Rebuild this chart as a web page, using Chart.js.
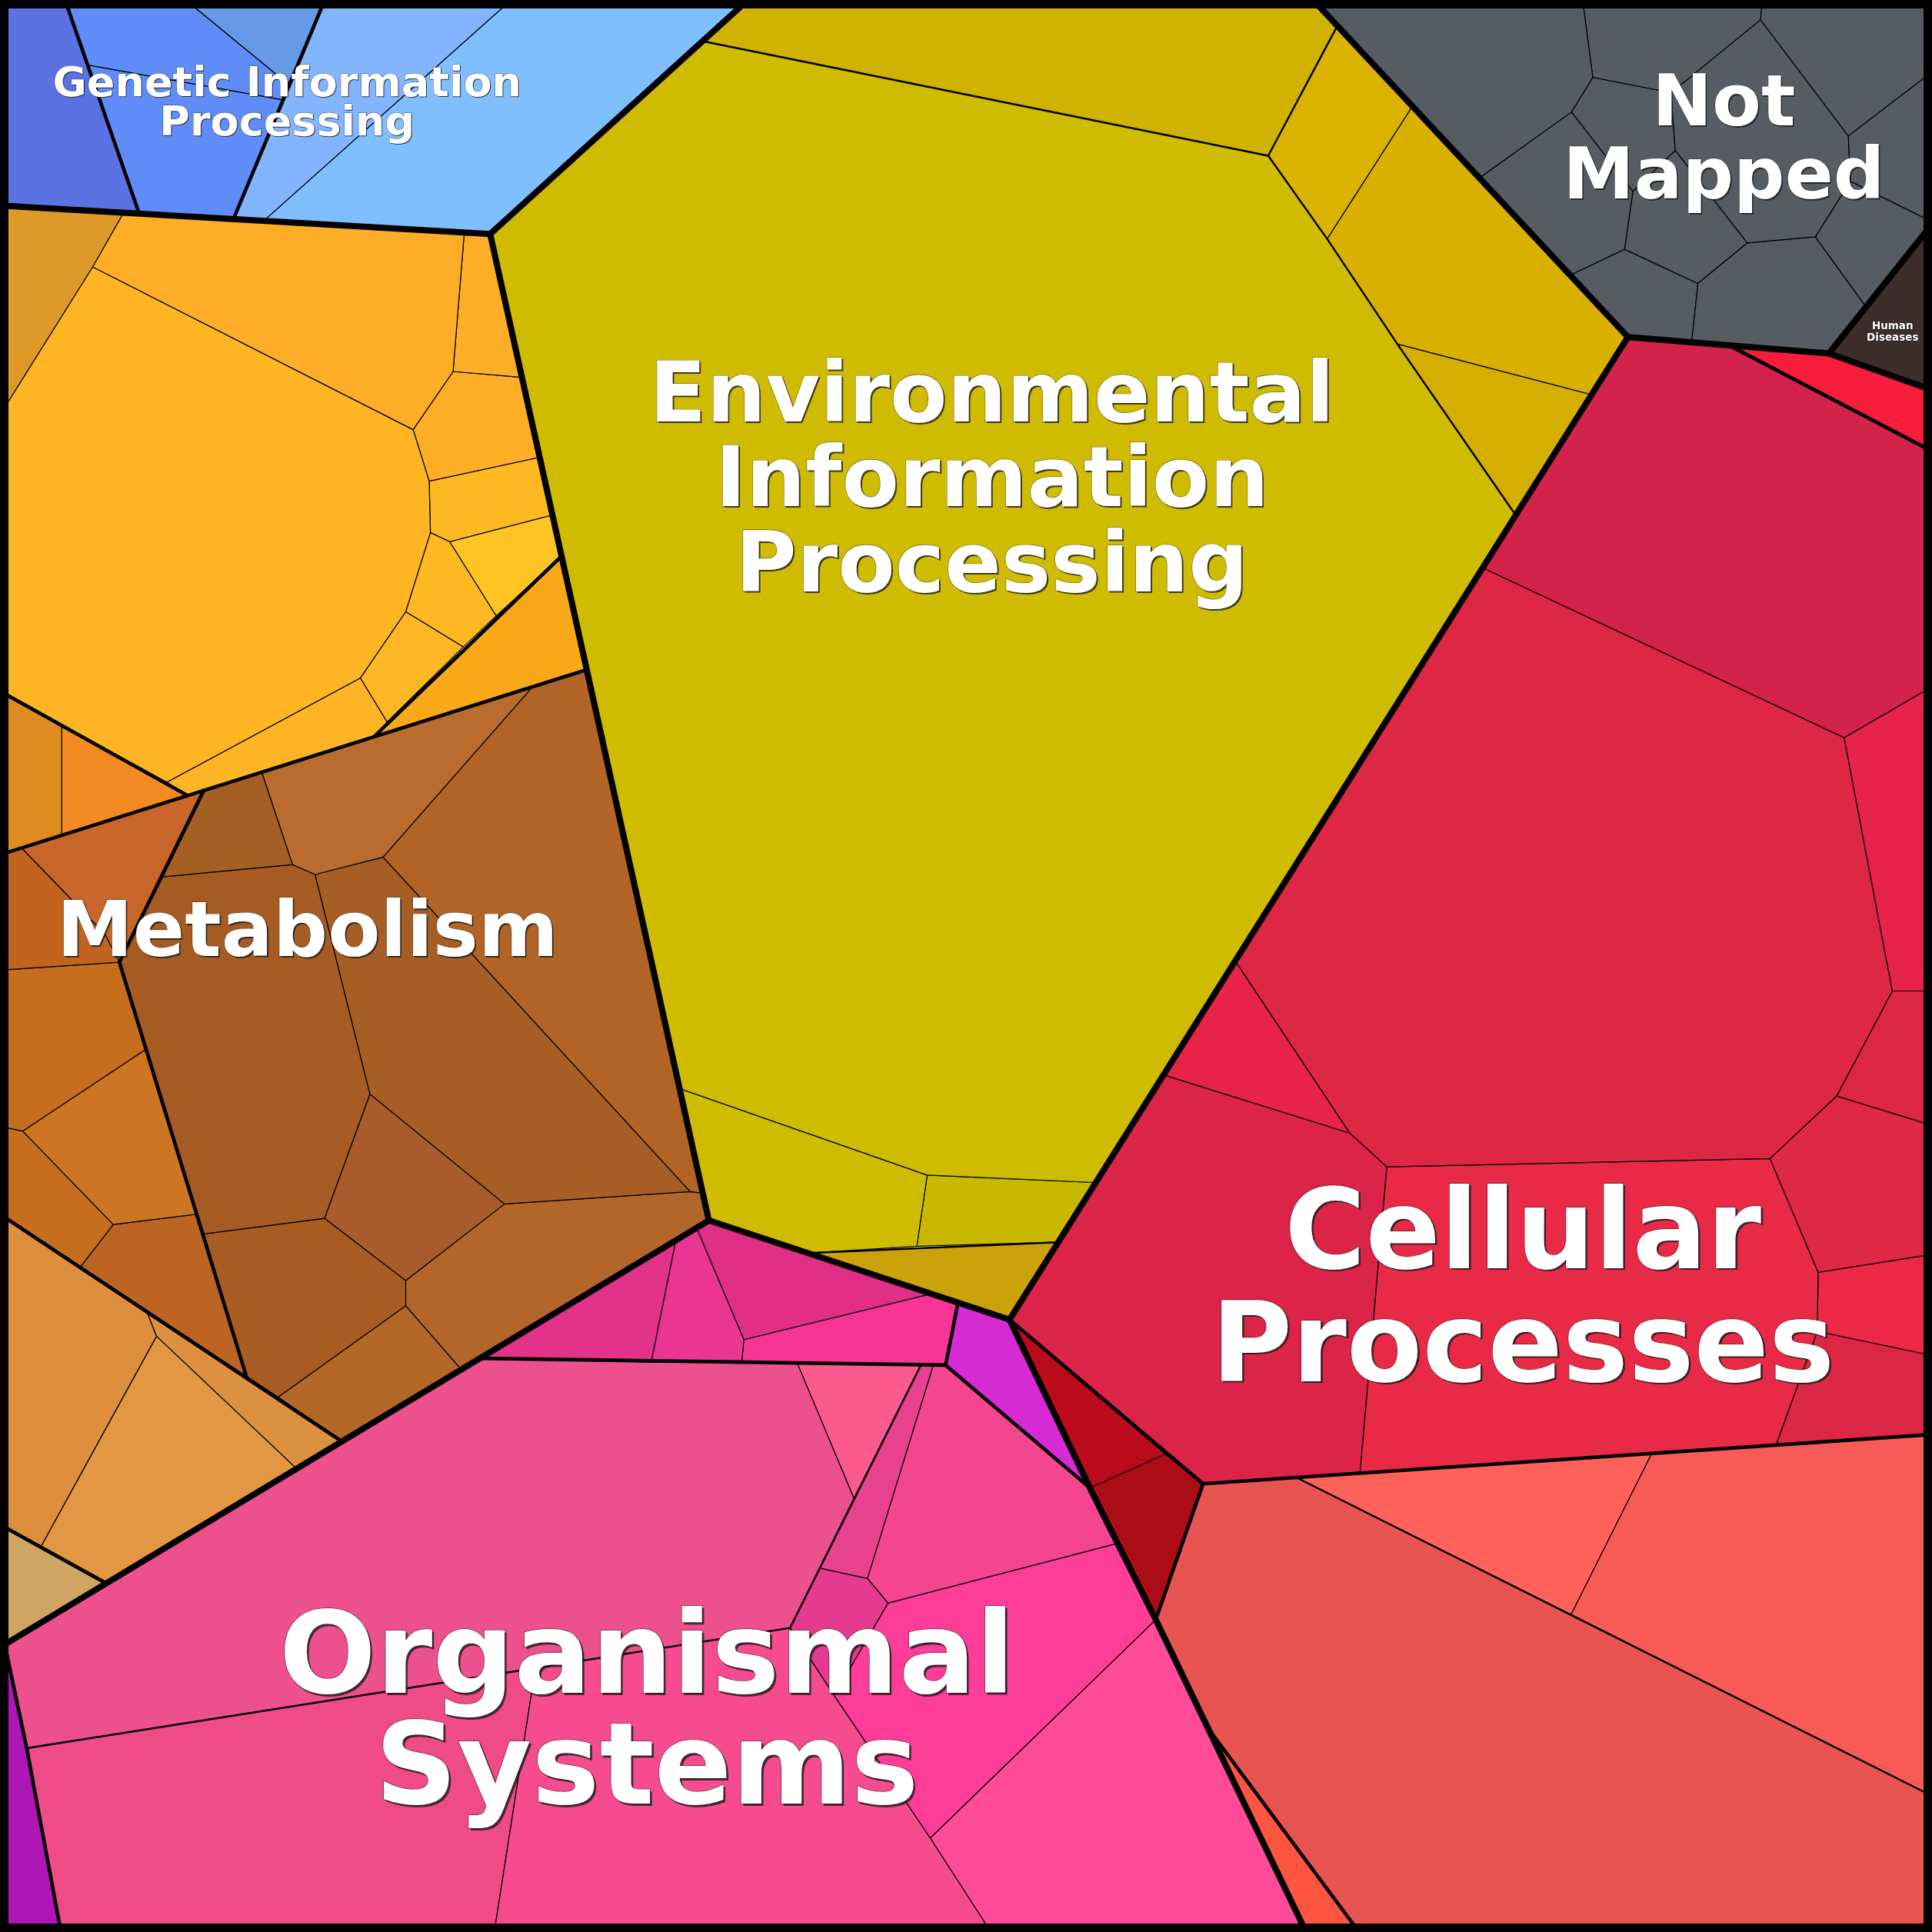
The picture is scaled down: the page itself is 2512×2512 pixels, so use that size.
<!DOCTYPE html>
<html><head><meta charset="utf-8">
<script src="https://cdn.jsdelivr.net/npm/chart.js@4.4.1/dist/chart.umd.min.js"></script>
<style>html,body{margin:0;padding:0;background:#fff}canvas{display:block}</style>
</head><body>
<canvas id="c" width="2512" height="2512" style="width:2512px;height:2512px"></canvas>
<script>
// ---- DATA (cell polygons as flat x,y lists in a 0..1568 layout space) ----
const categories = ['Genetic Information Processing','Environmental Information Processing','Not Mapped','Metabolism','Cellular Processes','Organismal Systems','Human Diseases'];

const geneticCells = [
 [0,0, 52.8,0, 113,173.4, 0,166.8],
 [52.8,0, 150.7,0, 234,68.5, 229,80.9, 71.5,52.8],
 [150.7,0, 263.6,0, 234,68.5],
 [71.5,52.8, 229,80.9, 189.5,177.8, 113,173.4],
 [263.6,0, 414.8,0, 214,179.2, 189.5,177.8],
 [414.8,0, 607,0, 397.8,189.9, 214,179.2]
];
const geneticColors = ['#5a72e2','#608cf8','#6699e6','#608cf8','#83b4fe','#80bfff'];

const metabolismCells = [
 [0,166.8, 100.3,172.6, 75.2,216.6, 0,336.7],
 [100.3,172.6, 376.8,188.7, 367.7,301.5, 335.3,348.7, 75.2,216.6],
 [376.8,188.7, 397.8,189.9, 423.6,306.2, 367.7,301.5],
 [0,336.7, 75.2,216.6, 335.3,348.7, 348.3,390.5, 349.3,432.2, 329.3,496.4, 292.5,550.2, 135.4,634.8, 0,560.9],
 [367.7,301.5, 423.6,306.2, 438,371.1, 348.3,390.5, 335.3,348.7],
 [348.3,390.5, 438,371.1, 448.4,417.9, 365,439.6, 349.3,432.2],
 [365,439.6, 448.4,417.9, 455.8,451.3, 402.8,499.8],
 [349.3,432.2, 365,439.6, 402.8,499.8, 376,525, 329.3,496.4],
 [329.3,496.4, 376,525, 314.2,586, 292.5,550.2],
 [135.4,634.8, 292.5,550.2, 314.2,586, 304.2,597.3, 152.1,645.6],
 [304.2,597.3, 455.8,451.3, 476.2,543.5],
 [0,560.9, 50.1,588.7, 50.1,677.9, 0,693.7],
 [50.1,588.7, 152.1,645.6, 50.1,677.9],
 [0,693.7, 17.4,688.2, 85,758, 96.9,780.9, 0,787.3],
 [17.4,688.2, 165.5,641.3, 132,711.7, 96.9,780.9, 85,758],
 [165.5,641.3, 212.3,626.4, 237.4,701.7, 132,711.7],
 [212.3,626.4, 433,556.5, 310.9,695.6, 255.7,709.7, 237.4,701.7],
 [433,556.5, 476.2,543.5, 570.4,968.4, 560.2,967.1, 310.9,695.6],
 [255.7,709.7, 310.9,695.6, 560.2,967.1, 409.5,977.1, 300.2,887.9],
 [132,711.7, 237.4,701.7, 255.7,709.7, 300.2,887.9, 263.4,988.8, 165.5,1001.5, 96.9,780.9],
 [300.2,887.9, 409.5,977.1, 329.3,1039.3, 263.4,988.8],
 [409.5,977.1, 560.2,967.1, 570.4,968.4, 575.3,990.5, 374.4,1111.5, 329.3,1059.7, 329.3,1039.3],
 [165.5,1001.5, 263.4,988.8, 329.3,1039.3, 329.3,1059.7, 225.7,1133.9, 199.9,1116.9],
 [329.3,1059.7, 374.4,1111.5, 277.5,1169.9, 225.7,1133.9],
 [0,787.3, 96.9,780.9, 117.7,852.1, 18.4,918, 0,914.2],
 [18.4,918, 117.7,852.1, 158.8,985.5, 91.9,993.8],
 [0,914.2, 18.4,918, 91.9,993.8, 65.2,1028.3, 0,985.4],
 [91.9,993.8, 158.8,985.5, 199.9,1116.9, 65.2,1028.3],
 [0,985.4, 65.2,1028.3, 118.7,1063.5, 127,1084.5, 33.4,1254.9, 0,1237.4],
 [127,1084.5, 240.7,1192, 86.2,1285, 33.4,1254.9],
 [118.7,1063.5, 277.5,1169.9, 240.7,1192, 127,1084.5],
 [0,1237.4, 86.2,1285, 0,1337]
];
const metabolismColors = ['#de9a28','#fdae26','#fdae26','#fdb524','#fdae26','#fdb822','#fec424','#fdb822','#fdb724','#fdb526','#f9a818','#e08a22','#f28c22',
 '#c26420','#c8652a','#a55f22','#b96c2e','#b16425','#a65e24','#a55b22','#a85c2c','#b3662a','#a85c22','#b46828',
 '#c46e1e','#cc7522','#c66e1e','#bb6424','#dd8f3e','#e39742','#db913f','#d0a462'];

const environmentalCells = [
 [607,0, 1065.8,0, 1085.4,21, 1029.3,126.4, 570.2,33.4],
 [1085.4,21, 1146.3,86.2, 1077.1,193.9, 1029.3,126.4],
 [1146.3,86.2, 1321.2,273.5, 1291.7,320.3, 1134,279.1, 1077.1,193.9],
 [1134,279.1, 1291.7,320.3, 1230,417.9],
 [570.2,33.4, 1029.3,126.4, 1077.1,193.9, 1134,279.1, 1230,417.9, 888.2,959.7, 752.5,953.7, 551.6,883.5, 397.8,189.9],
 [551.6,883.5, 752.5,953.7, 744.1,1011.5, 655.5,1017, 575.3,990.5],
 [752.5,953.7, 888.2,959.7, 857.6,1008.2, 744.1,1011.5],
 [655.5,1017, 857.6,1008.2, 819.3,1071]
];
const environmentalColors = ['#d0b300','#d9b300','#d8b100','#d4ae00','#cfbb00','#cfbb00','#c8b900','#cca20a'];

const notMappedCells = [
 [1065.8,0, 1284.4,0, 1292.7,62.8, 1275.4,90.9, 1200.7,144.4],
 [1284.4,0, 1430,0, 1428.8,16, 1356.3,75.2, 1292.7,62.8],
 [1430,0, 1568,0, 1568,58.3, 1500,110.3, 1428.8,16],
 [1428.8,16, 1500,110.3, 1501.7,147.1, 1473.3,192.2, 1418.1,197.2, 1359.6,122, 1356.3,75.2],
 [1500,110.3, 1568,58.3, 1568,180, 1501.7,147.1],
 [1501.7,147.1, 1568,180, 1568,182, 1514.4,249, 1473.3,192.2],
 [1473.3,192.2, 1514.4,249, 1484.3,286.8, 1403.1,280.2, 1373,277.7, 1378,230, 1418.1,197.2],
 [1275.4,90.9, 1325.2,155.4, 1318.5,202.3, 1274.4,223.3, 1200.7,144.4],
 [1292.7,62.8, 1356.3,75.2, 1359.6,122, 1325.2,155.4, 1275.4,90.9],
 [1325.2,155.4, 1359.6,122, 1418.1,197.2, 1378,230, 1318.5,202.3],
 [1318.5,202.3, 1378,230, 1373,277.7, 1321.2,273.5, 1274.4,223.3]
];
const notMappedColors = ['#575c63','#575c63','#575c63','#575c63','#575c63','#575c63','#575c63','#575c63','#575c63','#575c63','#575c63'];

const humanDiseasesCells = [[1484.3,286.8, 1568,182, 1568,316.6]];
const humanDiseasesColors = ['#3d2d2b'];

const cellularCells = [
 [1403.1,280.2, 1484.3,286.8, 1568,316.6, 1568,366.2],
 [1321.2,273.5, 1403.1,280.2, 1568,366.2, 1568,557.3, 1496.7,598.7, 1203.1,460.7],
 [1496.7,598.7, 1568,557.3, 1568,804.3, 1535.8,804.3],
 [1203.1,460.7, 1496.7,598.7, 1535.8,804.3, 1490.6,889.5, 1436.5,940.3, 1125.6,947, 1095.5,919.6, 1002.1,779.2],
 [1002.1,779.2, 1095.5,919.6, 943.5,872.1],
 [1535.8,804.3, 1568,804.3, 1568,913.3, 1490.6,889.5],
 [1490.6,889.5, 1568,913.3, 1568,1018, 1475.6,1032.6, 1436.5,940.3],
 [1125.6,947, 1436.5,940.3, 1475.6,1032.6, 1474.9,1080.5, 1441.5,1172.4, 1103.9,1194.8],
 [1475.6,1032.6, 1568,1018, 1568,1100, 1474.9,1080.5],
 [1474.9,1080.5, 1568,1100, 1568,1164.2, 1441.5,1172.4],
 [943.5,872.1, 1095.5,919.6, 1125.6,947, 1103.9,1194.8, 976.4,1204.2, 819.3,1071],
 [819.3,1071, 945.7,1180.1, 884.5,1207.5],
 [884.5,1207.5, 945.7,1180.1, 976.4,1204.2, 938,1314.5],
 [983.2,1406.4, 1103,1568, 1060,1568],
 [976.4,1204.2, 1052.1,1199.1, 1568,1457.5, 1568,1568, 1103,1568, 983.2,1406.4, 938,1314.5],
 [1052.1,1199.1, 1340.5,1179.6, 1275,1310.3],
 [1340.5,1179.6, 1568,1164.2, 1568,1457.5, 1275,1310.3]
];
const cellularColors = ['#f51c3c','#d4234a','#e8234b','#de2744','#e8234a','#dd2643','#de2845','#e92a46','#eb2946','#dc2645','#dc2348',
 '#bb0a1b','#ac0c16','#fe5540','#e85452','#fe6159','#f65b57'];

const organismalCells = [
 [548.5,1006.6, 528.5,1105.5, 389.5,1102.4],
 [548.5,1006.6, 565.3,996.5, 603.7,1087.2, 602,1105.5, 528.5,1105.5],
 [565.3,996.5, 575.3,990.5, 756,1050, 603.7,1087.2],
 [603.7,1087.2, 756,1050, 777.5,1057.2, 767.5,1107.9, 602,1105.5],
 [777.5,1057.2, 819.3,1071, 884.5,1207.5, 767.5,1107.9],
 [4,1335, 389.5,1102.4, 647.2,1106.8, 693,1215.9, 641.2,1321.2, 21.7,1418.8],
 [647.2,1106.8, 747.5,1107.6, 693,1215.9],
 [747.5,1107.6, 757.5,1107.7, 704,1281.1, 665.3,1272.7],
 [665.3,1272.7, 704,1281.1, 720.7,1301.1, 677,1376, 641.2,1321.2],
 [757.5,1107.7, 767.5,1107.9, 884.5,1207.5, 907,1252.5, 720.7,1301.1, 704,1281.1],
 [720.7,1301.1, 907,1252.5, 938,1314.5, 755,1491.7, 677,1376],
 [755,1491.7, 938,1314.5, 1060,1568, 804.3,1568],
 [434.6,1353.7, 641.2,1321.2, 677,1376, 755,1491.7, 804.3,1568, 401.2,1568],
 [21.7,1418.8, 434.6,1353.7, 401.2,1568, 49.5,1568],
 [0,1337, 4,1335, 21.7,1418.8, 49.5,1568, 0,1568]
];
const organismalColors = ['#e2328a','#ea3690','#e12f88','#f83595','#d62ad4','#ec518e','#fb5a8f','#e8418f','#e43b90','#f44690','#fd3d98','#fe4b99','#f64c8f','#ee4b87','#af16b6'];

// boundaries between top-level groups, sub-groups and sub-sub-groups
const groupBoundaries = [
 [0,166.8, 397.8,189.9],
 [397.8,189.9, 607,0],
 [397.8,189.9, 575.3,990.5],
 [1065.8,0, 1321.2,273.5],
 [1321.2,273.5, 819.3,1071],
 [1321.2,273.5, 1403.1,280.2, 1484.3,286.8],
 [1484.3,286.8, 1568,182],
 [1484.3,286.8, 1568,316.6],
 [575.3,990.5, 819.3,1071],
 [575.3,990.5, 0,1337],
 [819.3,1071, 884.5,1207.5, 938,1314.5, 1060,1568]
];
const subgroupBoundaries = [
 [52.8,0, 113,173.4], [263.6,0, 189.5,177.8],
 [0,693.7, 476.2,543.5], [0,560.9, 152.1,645.6], [304.2,597.3, 455.8,451.3],
 [0,985.4, 277.5,1169.9], [165.5,641.3, 96.9,780.9, 199.9,1116.9], [0,1237.4, 86.2,1285],
 [1403.1,280.2, 1568,366.2], [819.3,1071, 976.4,1204.2, 938,1314.5], [976.4,1204.2, 1568,1164.2], [983.2,1406.4, 1103,1568],
 [389.5,1102.4, 767.5,1107.9], [777.5,1057.2, 767.5,1107.9, 884.5,1207.5], [4,1335, 21.7,1418.8, 49.5,1568]
];
const minorBoundaries = [
 [570.2,33.4, 1029.3,126.4, 1085.4,21], [1029.3,126.4, 1077.1,193.9, 1134,279.1, 1230,417.9], [655.5,1017, 857.6,1008.2],
 [747.5,1107.6, 641.2,1321.2], [21.7,1418.8, 641.2,1321.2], [976.4,1204.2, 1052.1,1199.1, 1568,1457.5]
];

const labelTexts = [['Genetic Information','Processing'],['Environmental','Information','Processing'],['Not','Mapped'],['Metabolism'],['Cellular','Processes'],['Organismal','Systems'],['Human','Diseases']];

// ---- presentation ----
const labelLayout = [
 {x:233, y:78, size:54, lh:32},
 {x:805, y:342, size:108.5, lh:69},
 {x:1399, y:102, size:93, lh:59},
 {x:249.5, y:776, size:99.5, lh:0},
 {x:1236, y:1029, size:143.5, lh:92},
 {x:525, y:1374, size:148.5, lh:90},
 {x:1536, y:267.4, size:13.5, lh:8.9}
];

function toPts(flat, close){
  const p=[]; for(let i=0;i<flat.length;i+=2) p.push({x:flat[i], y:flat[i+1]});
  if(close) p.push({x:flat[0], y:flat[1]});
  return p;
}
const datasets=[];
function addCells(cells, colors){
  cells.forEach((c,i)=>datasets.push({data:toPts(c,true), showLine:true, fill:'shape', backgroundColor:colors[i],
    borderColor:'#000', borderWidth:1.2, pointRadius:0, pointHoverRadius:0, tension:0, order:10, clip:false}));
}
addCells(geneticCells, geneticColors);
addCells(metabolismCells, metabolismColors);
addCells(environmentalCells, environmentalColors);
addCells(notMappedCells, notMappedColors);
addCells(humanDiseasesCells, humanDiseasesColors);
addCells(cellularCells, cellularColors);
addCells(organismalCells, organismalColors);
function addLines(lines, w, ord){
  lines.forEach(l=>datasets.push({data:toPts(l,false), showLine:true, fill:false, borderColor:'#000', borderWidth:w,
    borderCapStyle:'round', borderJoinStyle:'round', pointRadius:0, pointHoverRadius:0, tension:0, order:ord, clip:false}));
}
addLines(minorBoundaries, 2.4, 3);
addLines(subgroupBoundaries, 4.6, 2);
addLines(groupBoundaries, 8, 1);

const overlay = {
  id:'overlay',
  afterDraw(chart){
    const ctx=chart.ctx, xs=chart.scales.x, ys=chart.scales.y;
    ctx.save();
    labelTexts.forEach((lines,gi)=>{
      const L=labelLayout[gi];
      ctx.font='bold '+L.size+'px "DejaVu Sans"';
      ctx.textAlign='center'; ctx.textBaseline='alphabetic';
      lines.forEach((t,li)=>{
        const px=xs.getPixelForValue(L.x), py=ys.getPixelForValue(L.y+li*L.lh);
        const off=Math.max(1, L.size/55);
        ctx.fillStyle='rgba(30,30,30,0.8)';
        ctx.fillText(t, px+off, py+off);
        ctx.lineWidth=Math.max(1,L.size/100); ctx.strokeStyle='rgba(20,20,20,0.6)';
        ctx.strokeText(t, px, py);
        ctx.fillStyle='#ffffff';
        ctx.fillText(t, px, py);
      });
    });
    // outer frame
    ctx.strokeStyle='#000'; ctx.lineWidth=11;
    ctx.strokeRect(5.5,5.5,chart.width-11,chart.height-11);
    ctx.restore();
  }
};

new Chart(document.getElementById('c'), {
  type:'scatter',
  data:{datasets},
  options:{
    responsive:false, animation:false, events:[],
    layout:{padding:0},
    scales:{
      x:{type:'linear', min:0, max:1568, display:false},
      y:{type:'linear', min:0, max:1568, reverse:true, display:false}
    },
    plugins:{legend:{display:false}, tooltip:{enabled:false}}
  },
  plugins:[overlay]
});
</script>
</body></html>
